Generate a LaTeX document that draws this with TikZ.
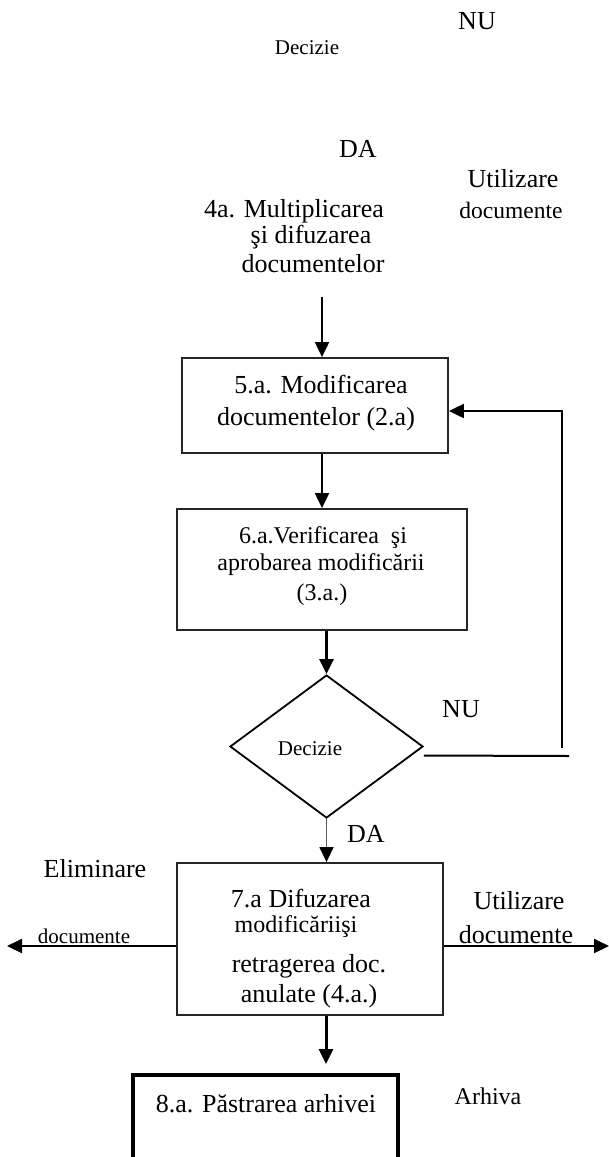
\documentclass[tikz,border=0pt]{standalone}
\usepackage{fontspec}
\setmainfont{Liberation Serif}
\usetikzlibrary{arrows.meta,shapes.geometric}
\begin{document}
\begin{tikzpicture}[x=1pt,y=-1pt,
  lbl/.style={anchor=base,inner sep=0pt,font=\fontsize{26}{28}\selectfont},
  lblm/.style={lbl,font=\fontsize{24}{26}\selectfont},
  lbls/.style={lbl,font=\fontsize{21}{24}\selectfont},
  box/.style={draw=black!85,line width=1.8pt,inner sep=0pt,fill=none},
  bigbox/.style={draw=black,line width=3.5pt,inner sep=0pt},
  dec/.style={diamond,draw=black,line width=1.8pt,inner sep=0pt,minimum width=193pt,minimum height=143pt},
  arr/.style={-{Triangle[length=15pt,width=14pt]},line width=2pt,draw=black},
  arrthick/.style={arr,line width=3pt},
  arrgray/.style={-{Triangle[length=15pt,width=14pt,color=black]},line width=1.4pt,draw=black!65},
  plain/.style={line width=2pt,draw=black}]
\useasboundingbox (0,0) rectangle (609,1157);
\clip (0,0) rectangle (609,1157);

% top free texts
\node[lbl]  (nuTop)  at (477,29)  {NU};
\node[lbls] (decTop) at (307,54)  {Decizie};
\node[lbl]  (daTop)  at (358,157) {DA};
\node[lbl]  (utTop)  at (513,187) {Utilizare};
\node[lbl,font=\fontsize{23.5}{26}\selectfont] (docTop) at (511,218) {documente};
\node[lbl] (m1) at (294,217) {4a. Multiplicarea};
\node[lbl] (m2) at (311,243) {şi difuzarea};
\node[lbl] (m3) at (313,272) {documentelor};

% box 5
\node[box,minimum width=266pt,minimum height=95pt] (b5) at (315,405.5) {};
\node[lbl] (b5t1) at (321,393) {5.a. Modificarea};
\node[lbl] (b5t2) at (316,425) {documentelor (2.a)};

% box 6
\node[box,minimum width=290pt,minimum height=121pt] (b6) at (322,569.5) {};
\node[lblm] (b6t1) at (323,543) {6.a.Verificarea\ \ şi};
\node[lblm] (b6t2) at (321,570) {aprobarea modificării};
\node[lblm] (b6t3) at (322,600) {(3.a.)};

% decision
\node[dec] (d) at (326.5,746.5) {};
\node[lbls] (dt) at (310,755) {Decizie};
\node[lbl] (nuMid) at (461,717) {NU};
\node[lbl] (daMid) at (366,842) {DA};

% box 7
\node[box,minimum width=266pt,minimum height=152pt] (b7) at (310,939) {};
\node[lbl]  (b7t1) at (301,907)  {7.a Difuzarea};
\node[lblm] (b7t2) at (296,932)  {modificăriişi};
\node[lbl]  (b7t3) at (309,972)  {retragerea doc.};
\node[lbl]  (b7t4) at (309,1002) {anulate (4.a.)};
\node[lbl]  (elim) at (95,877)   {Eliminare};
\node[lbls] (docL) at (84,943)   {documente};
\node[lbl]  (utR)  at (519,909)  {Utilizare};
\node[lbl]  (docR) at (516,943)  {documente};

% box 8
\node[bigbox,minimum width=265pt,minimum height=125pt] (b8) at (265.5,1137.5) {};
\node[lbl]  (b8t) at (266,1112) {8.a. Păstrarea arhivei};
\node[lblm] (arh) at (488,1104) {Arhiva};

% connectors
\coordinate (a1s) at (322,297);
\draw[arr] (a1s) -- (a1s |- b5.north);
\coordinate (a2x) at (322,455);
\draw[arr] (b5.south -| a2x) -- (b6.north -| a2x);
\draw[arrthick] (b6.south -| d.north) -- (d.north);
\draw[arrgray] (d.south) -- (d.south |- b7.north);
\coordinate (nu2) at (569,756);
\draw[plain] ([yshift=-9pt]d.east) -- (nu2);
\coordinate (fbB) at (562,748);
\coordinate (fbT) at (562,411);
\draw[arr] (fbB) -- (fbT) -- (fbT -| b5.east);
\coordinate (lt) at (7,946);
\coordinate (rt) at (609,946);
\draw[arr] (lt -| b7.west) -- (lt);
\draw[arr] (rt -| b7.east) -- (rt);
\coordinate (a4e) at (326,1064);
\draw[arrthick] (a4e |- b7.south) -- (a4e);
\end{tikzpicture}
\end{document}
